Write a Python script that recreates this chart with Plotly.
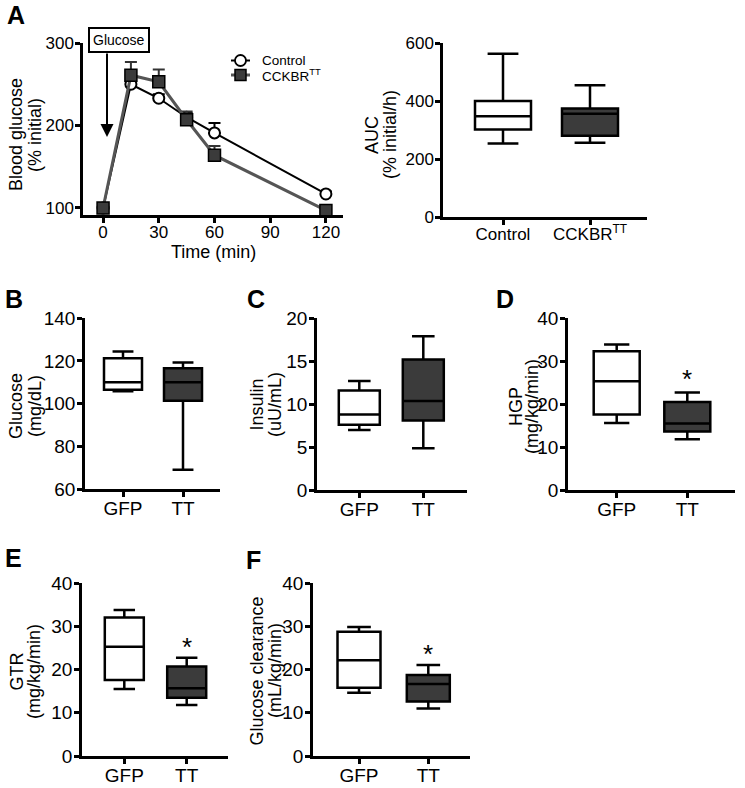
import plotly.graph_objects as go

# ---------------- data ----------------
time_min = [0, 15, 30, 45, 60, 120]
control_glucose = [100, 250, 233, 210, 191, 117]
control_err = [0, 4, 5, 5, 12, 3]
cckbr_glucose = [100, 261, 253, 207, 164, 97]
cckbr_err = [0, 16, 15, 10, 11, 2]

# box stats: [lower whisker, q1, median, q3, upper whisker]
auc_control = [254, 302, 348, 401, 564]
auc_cckbr = [256, 281, 357, 375, 455]
glucose_gfp = [105.8, 106.5, 110, 121.3, 124.4]
glucose_tt = [69, 101.3, 110, 116.6, 119.3]
insulin_gfp = [7.0, 7.6, 8.8, 11.6, 12.7]
insulin_tt = [4.85, 8.1, 10.35, 15.2, 17.9]
hgp_gfp = [15.6, 17.6, 25.3, 32.3, 33.9]
hgp_tt = [11.8, 13.6, 15.5, 20.5, 22.7]
gtr_gfp = [15.5, 17.6, 25.3, 32.1, 33.8]
gtr_tt = [11.8, 13.5, 15.7, 20.7, 22.75]
clear_gfp = [14.65, 15.8, 22.2, 28.8, 29.9]
clear_tt = [11.0, 12.6, 16.7, 18.75, 21.1]

series_names = ["Control", "CCKBR<sup>TT</sup>"]
auc_labels = ["Control", "CCKBR<sup>TT</sup>"]
group_labels = ["GFP", "TT"]

W, H = 745, 788
FONT = "Liberation Sans, Arial, sans-serif"
DARK = "#3b3b3b"
LINE2 = "#555555"

def dx(a, b):
    return [a / W, b / W]

def dy(top, bottom):
    return [1 - bottom / H, 1 - top / H]

def px_x(p):
    return p / W

def px_y(p):
    return 1 - p / H

fig = go.Figure()

axis_style = dict(showline=True, linecolor="black", linewidth=2.5, ticks="outside",
                  ticklen=5, tickwidth=2.5, tickcolor="black", showgrid=False,
                  zeroline=False, automargin=False,
                  tickfont=dict(size=19, color="black", family=FONT))

# ---------- Panel A line chart ----------
fig.add_trace(go.Scatter(
    x=time_min, y=control_glucose, name=series_names[0], mode="lines+markers",
    line=dict(color="black", width=2),
    marker=dict(symbol="circle", size=11, color="white", line=dict(color="black", width=2)),
    error_y=dict(type="data", array=control_err, arrayminus=[0] * len(control_err),
                 symmetric=False, color="black", thickness=2, width=6),
    xaxis="x", yaxis="y", showlegend=False))
fig.add_trace(go.Scatter(
    x=time_min, y=cckbr_glucose, name=series_names[1], mode="lines+markers",
    line=dict(color=LINE2, width=3),
    marker=dict(symbol="square", size=12, color=DARK, line=dict(color="black", width=1.5)),
    error_y=dict(type="data", array=cckbr_err, arrayminus=[0] * len(cckbr_err),
                 symmetric=False, color="#333333", thickness=2, width=6),
    xaxis="x", yaxis="y", showlegend=False))

# ---------- box panels ----------
panels = [
    (2, (443, 647), (43, 217), (503, 590), 56, (auc_control, auc_cckbr), auc_labels, (0, 600), [0, 200, 400, 600], 17),
    (3, (85, 220), (318, 489), (123, 183), 38, (glucose_gfp, glucose_tt), group_labels, (60, 140), [60, 80, 100, 120, 140], 19),
    (4, (317, 467), (318, 490), (359.3, 423.3), 41, (insulin_gfp, insulin_tt), group_labels, (0, 20), [0, 5, 10, 15, 20], 19),
    (5, (568, 735), (318, 490), (616.7, 687.3), 46, (hgp_gfp, hgp_tt), group_labels, (0, 40), [0, 10, 20, 30, 40], 19),
    (6, (82, 228), (583, 756), (124.3, 186.7), 39, (gtr_gfp, gtr_tt), group_labels, (0, 40), [0, 10, 20, 30, 40], 19),
    (7, (313, 470), (583, 756), (359, 428.3), 43, (clear_gfp, clear_tt), group_labels, (0, 40), [0, 10, 20, 30, 40], 19),
]

layout = dict(
    template="none",
    width=W, height=H, margin=dict(l=0, r=0, t=0, b=0, pad=0, autoexpand=False),
    paper_bgcolor="white", plot_bgcolor="white",
    font=dict(family=FONT, color="black"),
    showlegend=False,
)

layout["xaxis"] = dict(axis_style, domain=dx(83, 343), range=[-10.8, 129.2],
                       tickvals=[0, 30, 60, 90, 120], anchor="y", ticklabelstandoff=-5,
                       tickfont=dict(size=17, color="black", family=FONT))
layout["yaxis"] = dict(axis_style, domain=dy(43, 215), range=[91.5, 300],
                       tickvals=[100, 200, 300], anchor="x", ticklabelstandoff=-2,
                       tickfont=dict(size=17, color="black", family=FONT))

for idx, xpx, ypx, cpx, bw, stats, labels, yr, yt, xfs in panels:
    d = cpx[1] - cpx[0]
    xr = [(xpx[0] - cpx[0]) / d, (xpx[1] - cpx[0]) / d]
    for pos, (st, fill) in enumerate(zip(stats, ["white", DARK])):
        fig.add_trace(go.Box(
            x=[pos], lowerfence=[st[0]], q1=[st[1]], median=[st[2]], q3=[st[3]],
            upperfence=[st[4]], width=bw / d, whiskerwidth=0.55, fillcolor=fill,
            line=dict(color="black", width=2.5), boxpoints=False, showlegend=False,
            hoverinfo="skip", xaxis=f"x{idx}", yaxis=f"y{idx}"))
    layout[f"xaxis{idx}"] = dict(axis_style, domain=dx(*xpx), range=xr, tickvals=[0, 1],
                                 ticktext=labels, anchor=f"y{idx}", ticklabelstandoff=-5,
                                 tickfont=dict(size=xfs, color="black", family=FONT))
    ysz = 17 if idx == 2 else 19
    pad = (yr[1] - yr[0]) * 0.0015
    layout[f"yaxis{idx}"] = dict(axis_style, domain=dy(*ypx), range=[yr[0], yr[1] + pad],
                                 tickvals=yt, anchor=f"x{idx}", ticklabelstandoff=-2,
                                 tickfont=dict(size=ysz, color="black", family=FONT))

fig.update_layout(**layout)

# ---------- annotations ----------
ann = []
def paper_text(txt, px, py, size, angle=0, **kw):
    d = dict(text=txt, x=px_x(px), y=px_y(py), xref="paper", yref="paper",
             showarrow=False, xanchor="center", yanchor="middle", textangle=angle,
             font=dict(size=size, family=FONT, color="black"))
    d.update(kw)
    return d

# panel letters
for letter, px, py in [("A", 16, 15), ("B", 14, 299), ("C", 256, 299), ("D", 505, 299),
                       ("E", 14, 558), ("F", 253, 560)]:
    ann.append(paper_text(f"<b>{letter}</b>", px, py, 25))

# y-axis titles (two rotated lines each)
for l1, l2, x1, x2, py in [("Blood glucose", "(% initial)", 16, 35, 135),
                           ("AUC", "(% initial/h)", 372, 390, 135),
                           ("Glucose", "(mg/dL)", 16, 35, 406),
                           ("Insulin", "(uU/mL)", 256.5, 275, 405),
                           ("HGP", "(mg/kg/min)", 516, 532, 407),
                           ("GTR", "(mg/kg/min)", 16.5, 34, 672),
                           ("Glucose clearance", "(mL/kg/min)", 256.5, 275, 671)]:
    ann.append(paper_text(l1, x1, py, 18, angle=-90))
    ann.append(paper_text(l2, x2, py, 18, angle=-90))

# x title
ann.append(paper_text("Time (min)", 213, 252, 18))
# glucose injection box + arrow
ann.append(paper_text("Glucose", 118.5, 40, 14, bordercolor="black", borderwidth=2,
                      borderpad=3, bgcolor="white"))
ann.append(dict(text="", x=px_x(107), y=px_y(137), xref="paper", yref="paper",
                ax=0, ay=-85, showarrow=True, arrowhead=2, arrowsize=1.3,
                arrowwidth=2, arrowcolor="black"))
# significance stars above TT whiskers
for idx, tt, ys in [(5, hgp_tt, -3), (6, gtr_tt, -6), (7, clear_tt, -6)]:
    ann.append(dict(text="*", x=1, y=tt[4], xref=f"x{idx}", yref=f"y{idx}",
                    showarrow=False, xanchor="center", yanchor="bottom", yshift=ys,
                    font=dict(size=26, family=FONT, color="black")))

# ---------- compact legend (key glyphs + labels) ----------
shapes = []
leg_rows = [(60.5, "black", 2, "circle", "white"), (75, LINE2, 3, "rect", DARK)]
for name, (ly, lc, lw, sym, fc) in zip(series_names, leg_rows):
    shapes.append(dict(type="line", xref="paper", yref="paper", x0=px_x(231), x1=px_x(250),
                       y0=px_y(ly), y1=px_y(ly), line=dict(color=lc, width=lw)))
    r = 5.5
    shapes.append(dict(type=sym, xref="paper", yref="paper",
                       x0=px_x(240.5 - r), x1=px_x(240.5 + r), y0=px_y(ly + r), y1=px_y(ly - r),
                       fillcolor=fc, line=dict(color="black", width=1.8 if sym == "circle" else 1.5)))
    ann.append(dict(text=name, x=px_x(260), y=px_y(ly), xref="paper", yref="paper",
                    showarrow=False, xanchor="left", yanchor="middle",
                    font=dict(size=13.5, family=FONT, color="black")))

fig.update_layout(annotations=ann, shapes=shapes)
fig.write_html("out.html", config={"displayModeBar": False},
               post_script="document.body.style.margin='0';document.body.style.overflow='hidden';")
